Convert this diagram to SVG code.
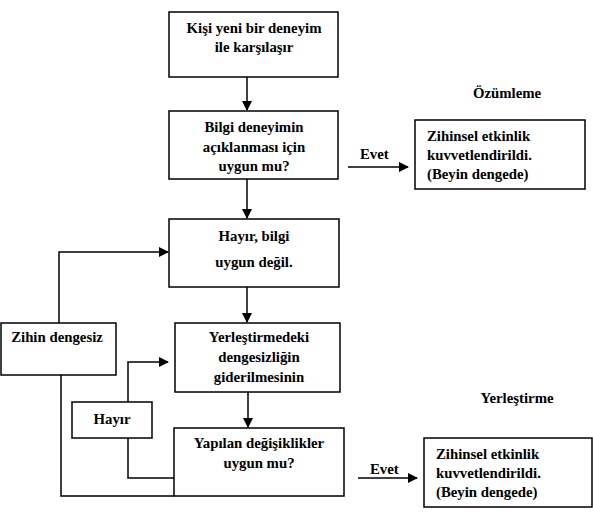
<svg xmlns="http://www.w3.org/2000/svg" width="593" height="519" viewBox="0 0 593 519" font-family="'Liberation Serif', 'DejaVu Serif', 'Times New Roman', serif">
<style>
rect{fill:#fff;stroke:#000;stroke-width:1.5}
text{font-family:'Liberation Serif','DejaVu Serif','Times New Roman',serif;font-weight:bold;font-size:14.8px;fill:#000}
.c{text-anchor:middle}
.ln{fill:none;stroke:#000;stroke-width:1.5}
</style>
<defs>
<marker id="ah" markerWidth="10" markerHeight="10" refX="9" refY="5" orient="auto" markerUnits="userSpaceOnUse">
<path d="M0,0 L10,5 L0,10 Z" fill="#000"/>
</marker>
</defs>
<rect width="593" height="519" style="stroke:none"/>
<g id="connectors">
<path class="ln" d="M247,77 V110" marker-end="url(#ah)"/>
<path class="ln" d="M247,179 V218" marker-end="url(#ah)"/>
<path class="ln" d="M247,287 V322" marker-end="url(#ah)"/>
<path class="ln" d="M248,392 V427" marker-end="url(#ah)"/>
<path class="ln" d="M348,167 H408" marker-end="url(#ah)"/>
<path class="ln" d="M358,478 H417" marker-end="url(#ah)"/>
<path class="ln" d="M59,323 V252 H168" marker-end="url(#ah)"/>
<path class="ln" d="M61,375 V496 H174"/>
<path class="ln" d="M128,402 V362 H168" marker-end="url(#ah)"/>
<path class="ln" d="M128,438 V478 H174"/>
</g>
<g id="n1"><rect x="169" y="12" width="169" height="65"/>
<text class="c" x="254" y="33">Kişi yeni bir deneyim</text>
<text class="c" x="254" y="52">ile karşılaşır</text></g>
<g id="n2"><rect x="169" y="111" width="169" height="68"/>
<text class="c" x="254" y="132">Bilgi deneyimin</text>
<text class="c" x="254" y="152">açıklanması için</text>
<text class="c" x="254" y="171">uygun mu?</text></g>
<g id="evet1"><text x="360" y="159">Evet</text></g>
<g id="ozumleme"><text class="c" x="507" y="98">Özümleme</text></g>
<g id="n3"><rect x="415" y="120" width="170" height="69"/>
<text x="427" y="141">Zihinsel etkinlik</text>
<text x="427" y="160">kuvvetlendirildi.</text>
<text x="427" y="179">(Beyin dengede)</text></g>
<g id="n4"><rect x="169" y="219" width="170" height="68"/>
<text class="c" x="254" y="241">Hayır, bilgi</text>
<text class="c" x="254" y="267">uygun değil.</text></g>
<g id="n5"><rect x="175" y="323" width="165" height="69"/>
<text class="c" x="259" y="342">Yerleştirmedeki</text>
<text class="c" x="259" y="362">dengesizliğin</text>
<text class="c" x="259" y="382">giderilmesinin</text></g>
<g id="n6"><rect x="1" y="323" width="115" height="52"/>
<text class="c" x="57" y="342">Zihin dengesiz</text></g>
<g id="n7"><rect x="72" y="402" width="80" height="36"/>
<text class="c" x="112" y="424">Hayır</text></g>
<g id="n8"><rect x="174" y="428" width="170" height="68"/>
<text class="c" x="259" y="448">Yapılan değişiklikler</text>
<text class="c" x="259" y="468">uygun mu?</text></g>
<g id="evet2"><text x="370" y="474">Evet</text></g>
<g id="yerlestirme"><text class="c" x="517" y="403">Yerleştirme</text></g>
<g id="n9"><rect x="424" y="438" width="168" height="69"/>
<text x="436" y="459">Zihinsel etkinlik</text>
<text x="436" y="478">kuvvetlendirildi.</text>
<text x="436" y="497">(Beyin dengede)</text></g>
</svg>
